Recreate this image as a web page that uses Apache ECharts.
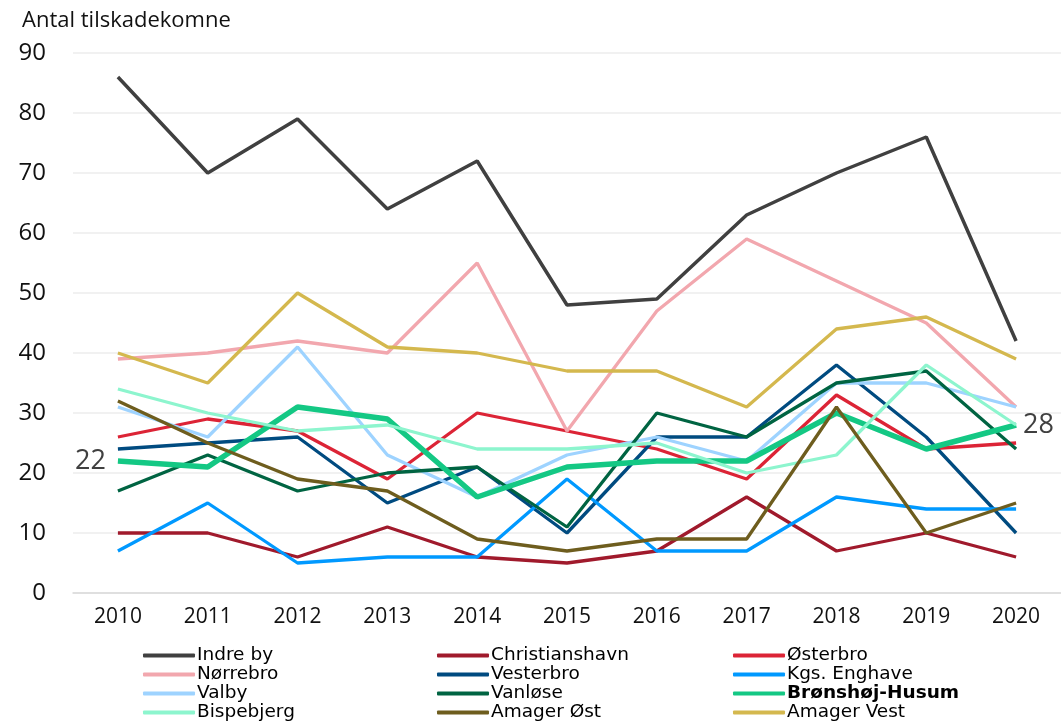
<!DOCTYPE html>
<html>
<head>
<meta charset="utf-8">
<script src="https://cdn.jsdelivr.net/npm/echarts@6/dist/echarts.min.js"></script>
<style>
  html, body { margin: 0; padding: 0; background: #fff; }
  #chart { width: 1061px; height: 724px; }
</style>
</head>
<body>
<div id="chart"></div>
<script>
// Injured persons per district, 2010–2020
const years = ['2010','2011','2012','2013','2014','2015','2016','2017','2018','2019','2020'];

const indreBy        = [86, 70, 79, 64, 72, 48, 49, 63, 70, 76, 42];
const christianshavn = [10, 10, 6, 11, 6, 5, 7, 16, 7, 10, 6];
const oesterbro      = [26, 29, 27, 19, 30, 27, 24, 19, 33, 24, 25];
const noerrebro      = [39, 40, 42, 40, 55, 27, 47, 59, 52, 45, 31];
const vesterbro      = [24, 25, 26, 15, 21, 10, 26, 26, 38, 26, 10];
const kgsEnghave     = [7, 15, 5, 6, 6, 19, 7, 7, 16, 14, 14];
const valby          = [31, 26, 41, 23, 16, 23, 26, 22, 35, 35, 31];
const vanloese       = [17, 23, 17, 20, 21, 11, 30, 26, 35, 37, 24];
const broenshoej     = [22, 21, 31, 29, 16, 21, 22, 22, 30, 24, 28];
const bispebjerg     = [34, 30, 27, 28, 24, 24, 25, 20, 23, 38, 28];
const amagerOest     = [32, 25, 19, 17, 9, 7, 9, 9, 31, 10, 15];
const amagerVest     = [40, 35, 50, 41, 40, 37, 37, 31, 44, 46, 39];

const districts = [
  { name: 'Indre by',       data: indreBy,        color: '#404040', width: 3.5 },
  { name: 'Christianshavn', data: christianshavn, color: '#A01A2C', width: 3.3 },
  { name: 'Østerbro',       data: oesterbro,      color: '#DC2436', width: 3.3 },
  { name: 'Nørrebro',       data: noerrebro,      color: '#F2A7AE', width: 3.3 },
  { name: 'Vesterbro',      data: vesterbro,      color: '#004B80', width: 3.3 },
  { name: 'Kgs. Enghave',   data: kgsEnghave,     color: '#0099FF', width: 3.3 },
  { name: 'Valby',          data: valby,          color: '#9ED3FF', width: 3.3 },
  { name: 'Vanløse',        data: vanloese,       color: '#006442', width: 3.3 },
  { name: 'Brønshøj-Husum', data: broenshoej,     color: '#14C884', width: 5.5, labelled: true },
  { name: 'Bispebjerg',     data: bispebjerg,     color: '#8DF5CE', width: 3.3 },
  { name: 'Amager Øst',     data: amagerOest,     color: '#6E5D1E', width: 3.3 },
  { name: 'Amager Vest',    data: amagerVest,     color: '#D4B84E', width: 3.3 }
];

const fontMain = '"Open Sans", Lato, sans-serif';
const fontWide = '"DejaVu Sans", "Open Sans", sans-serif';

// First and last values of the highlighted district carry a value label
function seriesData(d) {
  if (!d.labelled) return d.data;
  const last = d.data.length - 1;
  return d.data.map((v, i) => {
    if (i === 0) return { value: v, label: { show: true, position: 'left', distance: 12 } };
    if (i === last) return { value: v, label: { show: true, position: 'right', distance: 7 } };
    return v;
  });
}

const series = districts.map(d => ({
  name: d.name,
  type: 'line',
  data: seriesData(d),
  symbol: 'circle',
  symbolSize: 0,
  showSymbol: !!d.labelled,
  lineStyle: { color: d.color, width: d.width },
  itemStyle: { color: d.color },
  label: { show: false, color: '#404040', fontSize: 27, fontFamily: fontMain },
  emphasis: { disabled: true },
  animation: false
}));

function legendCol(names, left) {
  return {
    orient: 'vertical',
    left: left,
    top: 646,
    padding: 0,
    itemGap: 0,
    itemWidth: 52,
    itemHeight: 4,
    icon: 'roundRect',
    data: names,
    formatter: n => n === 'Brønshøj-Husum' ? '{b|' + n + '}' : n,
    textStyle: {
      fontFamily: fontWide,
      fontSize: 18.5,
      color: '#000',
      lineHeight: 19,
      padding: [0, 0, 0, -3],
      rich: { b: { fontWeight: 'bold', fontSize: 18.5, fontFamily: fontWide, color: '#000', lineHeight: 19 } }
    }
  };
}

const chart = echarts.init(document.getElementById('chart'), null, { renderer: 'canvas' });
chart.setOption({
  backgroundColor: '#fff',
  animation: false,
  title: {
    text: 'Antal tilskadekomne',
    left: 17,
    top: 5,
    textStyle: { fontFamily: fontMain, fontSize: 22, fontWeight: 'normal', color: '#111' }
  },
  grid: { left: 73, top: 53, width: 994, bottom: 131 },
  xAxis: {
    type: 'category',
    data: years,
    boundaryGap: true,
    axisLine: { lineStyle: { color: '#d9d9d9', width: 1.5 } },
    axisTick: { show: false },
    axisLabel: { fontFamily: fontMain, fontSize: 21, color: '#111', margin: 14 }
  },
  yAxis: {
    type: 'value',
    min: 0,
    max: 90,
    interval: 10,
    axisLine: { show: false },
    axisTick: { show: false },
    splitLine: { lineStyle: { color: '#ececec', width: 1.5 } },
    axisLabel: { fontFamily: fontMain, fontSize: 24, color: '#111', margin: 27 }
  },
  legend: [
    legendCol(['Indre by', 'Nørrebro', 'Valby', 'Bispebjerg'], 143),
    legendCol(['Christianshavn', 'Vesterbro', 'Vanløse', 'Amager Øst'], 437),
    legendCol(['Østerbro', 'Kgs. Enghave', 'Brønshøj-Husum', 'Amager Vest'], 733)
  ],
  series: series
});
</script>
</body>
</html>
